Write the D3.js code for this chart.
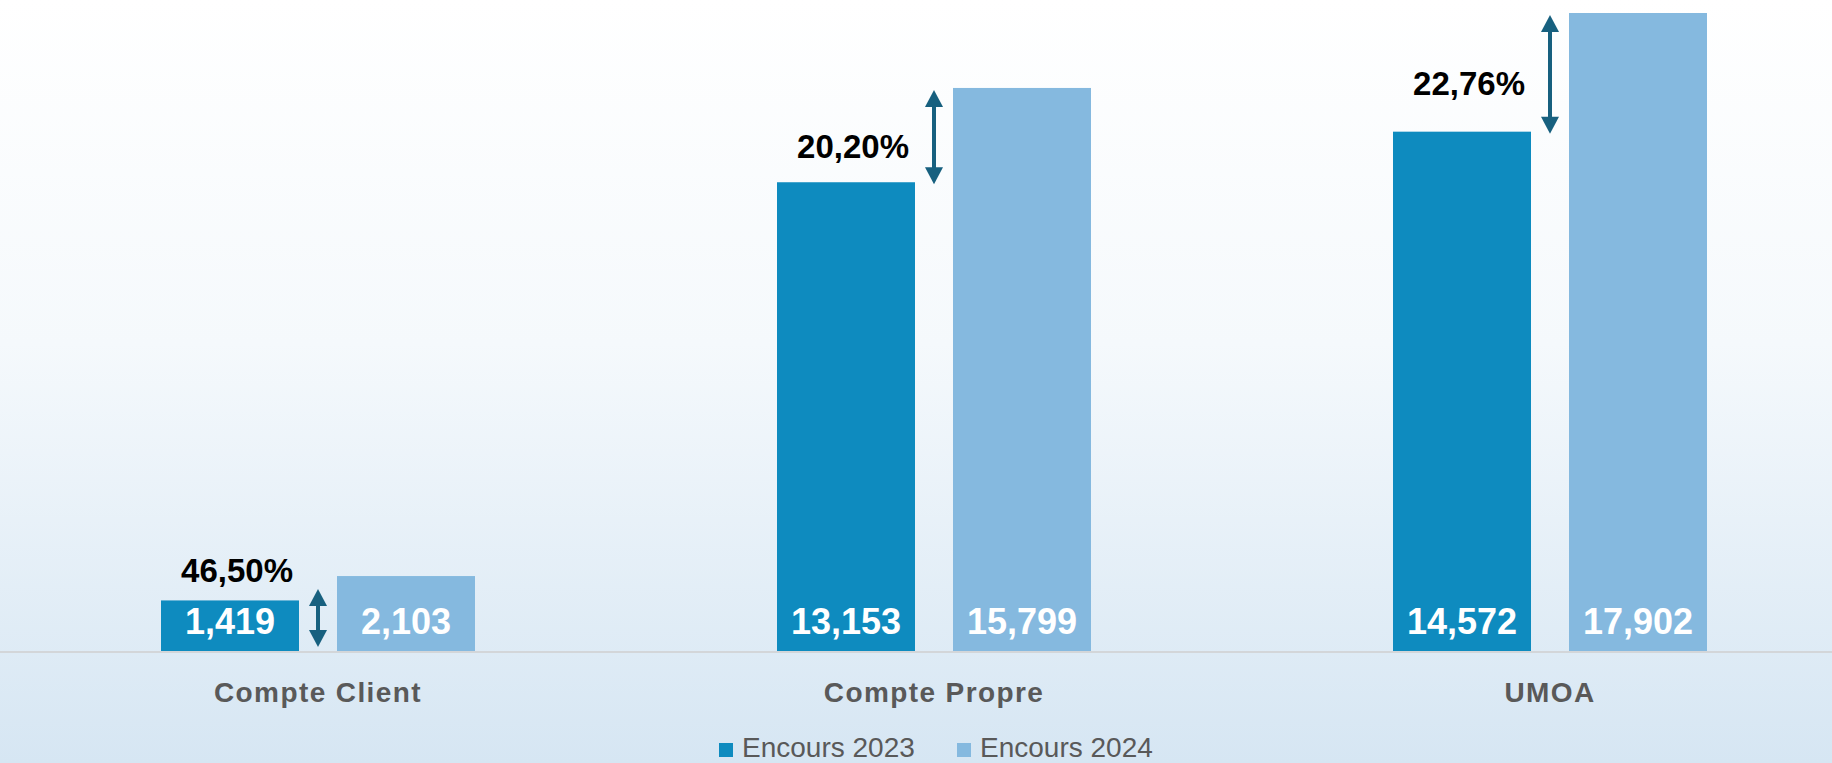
<!DOCTYPE html>
<html>
<head>
<meta charset="utf-8">
<script src="https://cdn.jsdelivr.net/npm/d3@7"></script>
<style>
  html, body { margin: 0; padding: 0; overflow: hidden; }
  body { width: 1832px; height: 763px; }
  svg { display: block; }
</style>
</head>
<body>
<svg id="chart" width="1832" height="763"></svg>
<script>
// chart values
const categories = ["Compte Client", "Compte Propre", "UMOA"];
const seriesNames = ["Encours 2023", "Encours 2024"];
const encours2023 = [1419, 13153, 14572];
const encours2024 = [2103, 15799, 17902];
const growthLabels = ["46,50%", "20,20%", "22,76%"];

const colors = ["#0e8bbf", "#85b9df"];
const arrowColor = "#17607f";

var width = 1832,
    height = 763,
    baseline = 651;

var svg = d3.select("#chart");

// background gradient, white at the top to pale blue at the bottom
var defs = svg.append("defs");
var grad = defs.append("linearGradient")
    .attr("id", "bg")
    .attr("x1", 0).attr("y1", 0).attr("x2", 0).attr("y2", 1);
grad.append("stop").attr("offset", "0%").attr("stop-color", "#ffffff");
grad.append("stop").attr("offset", "45%").attr("stop-color", "#f5f9fc");
grad.append("stop").attr("offset", "100%").attr("stop-color", "#d6e6f3");

svg.append("rect")
    .attr("width", width)
    .attr("height", height)
    .attr("fill", "url(#bg)");

var rows = categories.map(function(c, i) {
  return { category: c, values: [encours2023[i], encours2024[i]], growth: growthLabels[i] };
});

var x0 = d3.scalePoint()
    .domain(categories)
    .range([318, 1550]);

var x1 = d3.scaleBand()
    .domain(seriesNames)
    .range([-157, 157])
    .paddingInner(0.216);

var y = d3.scaleLinear()
    .domain([0, d3.max(encours2024)])
    .range([baseline, 13]);

var fmt = d3.format(",");

// bars
var group = svg.selectAll(".cat")
    .data(rows)
  .enter().append("g")
    .attr("class", "cat")
    .attr("transform", function(d) { return "translate(" + x0(d.category) + ",0)"; });

group.selectAll("rect")
    .data(function(d) { return d.values.map(function(v, i) { return { name: seriesNames[i], value: v, i: i }; }); })
  .enter().append("rect")
    .attr("x", function(d) { return x1(d.name); })
    .attr("y", function(d) { return y(d.value); })
    .attr("width", x1.bandwidth())
    .attr("height", function(d) { return baseline - y(d.value); })
    .attr("fill", function(d) { return colors[d.i]; });

group.selectAll(".val")
    .data(function(d) { return d.values.map(function(v, i) { return { name: seriesNames[i], value: v }; }); })
  .enter().append("text")
    .attr("class", "val")
    .attr("x", function(d) { return x1(d.name) + x1.bandwidth() / 2; })
    .attr("y", baseline - 17)
    .attr("text-anchor", "middle")
    .style("font-family", "Liberation Sans, Arial, sans-serif")
    .style("font-weight", "bold")
    .style("font-size", "36px")
    .style("fill", "#ffffff")
    .text(function(d) { return fmt(d.value); });

// axis line
svg.append("line")
    .attr("x1", 0).attr("x2", width)
    .attr("y1", baseline + 1).attr("y2", baseline + 1)
    .attr("stroke", "#d3d6d9")
    .attr("stroke-width", 2);

// category labels
svg.selectAll(".cat-label")
    .data(categories)
  .enter().append("text")
    .attr("class", "cat-label")
    .attr("x", function(d) { return x0(d); })
    .attr("y", 702)
    .attr("text-anchor", "middle")
    .style("font-family", "Liberation Sans, Arial, sans-serif")
    .style("font-weight", "bold")
    .style("font-size", "28px")
    .style("letter-spacing", "1.4px")
    .style("fill", "#595959")
    .text(function(d) { return d; });

// growth arrows between the two bars
function arrow(g, cx, yTop, yBot) {
  var hw = 9, hh = 17;
  g.append("line")
      .attr("x1", cx).attr("x2", cx)
      .attr("y1", yTop + hh - 2).attr("y2", yBot - hh + 2)
      .attr("stroke", arrowColor)
      .attr("stroke-width", 4);
  g.append("path")
      .attr("d", "M" + cx + "," + yTop + "L" + (cx + hw) + "," + (yTop + hh) + "L" + (cx - hw) + "," + (yTop + hh) + "Z")
      .attr("fill", arrowColor);
  g.append("path")
      .attr("d", "M" + cx + "," + yBot + "L" + (cx + hw) + "," + (yBot - hh) + "L" + (cx - hw) + "," + (yBot - hh) + "Z")
      .attr("fill", arrowColor);
}

group.each(function(d) {
  var g = d3.select(this);
  var left = x1(seriesNames[0]) + x1.bandwidth();
  var right = x1(seriesNames[1]);
  var cx = (left + right) / 2;
  var top24 = y(d.values[1]);
  var top23 = y(d.values[0]);
  var yTop, yBot;
  if (top23 - top24 < 60) {
    // gap too small: draw arrow down to the axis
    yTop = top24 + 13;
    yBot = baseline - 4;
  } else {
    yTop = top24 + 2;
    yBot = top23 + 2;
  }
  arrow(g, cx, yTop, yBot);

  var mid = (top24 + top23) / 2;
  var ly = Math.min(mid + 23, top23 - 18);
  g.append("text")
      .attr("x", left - 6)
      .attr("y", ly)
      .attr("text-anchor", "end")
      .style("font-family", "Liberation Sans, Arial, sans-serif")
      .style("font-weight", "bold")
      .style("font-size", "33px")
      .style("fill", "#000000")
      .text(d.growth);
});

// legend
var legend = svg.append("g").attr("class", "legend");
var legendX = [719, 957];
seriesNames.forEach(function(name, i) {
  var lg = legend.append("g").attr("transform", "translate(" + legendX[i] + ",0)");
  lg.append("rect")
      .attr("x", 0).attr("y", 743)
      .attr("width", 14).attr("height", 14)
      .attr("fill", colors[i]);
  lg.append("text")
      .attr("x", 23)
      .attr("y", 757)
      .style("font-family", "Liberation Sans, Arial, sans-serif")
      .style("font-size", "28px")
      .style("fill", "#595959")
      .text(name);
});
</script>
</body>
</html>
